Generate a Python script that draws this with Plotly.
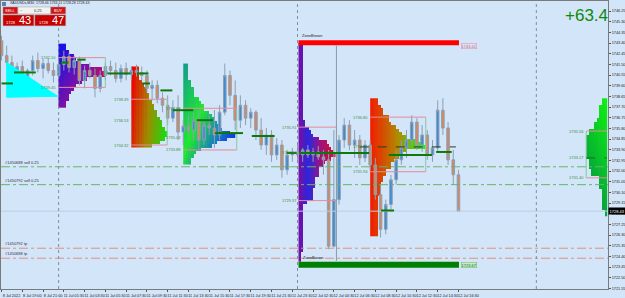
import plotly.graph_objects as go

# ---------------- DATA ----------------
bars = list(range(89))
opens = [1743.60,1742.28,1741.66,1740.78,1741.31,1740.25,1740.95,1741.84,1741.13,1741.57,
         1740.95,1740.51,1741.48,1742.19,1741.22,1741.84,1740.07,1740.95,1740.51,1739.36,
         1740.51,1741.31,1740.95,1740.25,1741.13,1740.60,1740.95,1740.78,1740.51,1739.36,
         1739.63,1738.48,1737.86,1736.71,1737.59,1735.47,1736.00,1735.65,1736.53,1734.76,
         1736.09,1735.83,1735.21,1737.24,1740.51,1738.74,1736.53,1737.86,1736.71,1737.24,
         1735.65,1734.32,1735.21,1733.44,1734.32,1732.11,1733.44,1733.70,1733.44,1733.88,
         1733.44,1733.70,1733.26,1733.00,1725.31,1729.46,1734.76,1736.09,1734.32,1734.76,
         1733.17,1734.32,1732.55,1729.90,1726.81,1729.02,1731.23,1733.00,1734.06,1734.76,
         1736.36,1734.32,1735.21,1733.44,1734.06,1737.42,1735.83,1733.00,1731.67]
highs = [1744.05,1743.16,1742.28,1741.66,1741.84,1741.13,1742.28,1742.54,1742.01,1742.01,
         1741.66,1741.84,1742.72,1742.54,1742.28,1742.19,1741.39,1741.66,1741.13,1740.95,
         1741.66,1741.84,1741.66,1741.48,1741.66,1741.31,1741.48,1741.31,1740.95,1740.07,
         1740.07,1739.01,1738.74,1738.30,1738.74,1736.53,1736.97,1737.24,1737.42,1736.71,
         1736.97,1737.42,1737.86,1741.57,1740.95,1740.07,1738.74,1738.30,1737.59,1737.42,
         1736.71,1735.83,1735.65,1734.94,1734.76,1733.88,1734.06,1734.32,1734.06,1734.32,
         1734.06,1734.23,1733.88,1733.88,1735.65,1735.21,1736.71,1736.53,1735.65,1735.21,
         1734.76,1734.76,1733.17,1730.79,1729.46,1731.67,1733.88,1734.76,1735.65,1736.97,
         1736.71,1736.09,1735.65,1734.76,1738.30,1738.48,1736.36,1733.88,1732.11]
lows = [1741.84,1741.13,1740.07,1739.89,1739.63,1739.54,1740.51,1740.78,1740.25,1740.69,
        1739.89,1740.25,1740.95,1740.78,1740.60,1739.63,1739.36,1740.25,1738.57,1739.01,
        1740.07,1740.51,1739.89,1739.89,1740.07,1740.07,1740.42,1740.07,1739.01,1738.30,
        1738.03,1737.24,1736.09,1736.36,1734.76,1734.32,1735.21,1734.76,1733.88,1734.32,
        1735.21,1734.06,1734.76,1736.97,1737.86,1735.65,1735.83,1736.09,1735.83,1734.76,
        1733.88,1733.44,1732.82,1733.00,1731.40,1731.67,1732.82,1733.00,1732.82,1733.17,
        1732.82,1733.00,1731.67,1725.04,1725.22,1729.02,1734.06,1733.88,1733.17,1732.55,
        1732.82,1732.11,1729.46,1726.10,1726.37,1728.58,1730.79,1732.55,1733.17,1734.32,
        1733.88,1733.70,1733.00,1732.82,1733.70,1735.21,1732.55,1730.79,1728.40]
closes = [1742.28,1741.66,1740.78,1741.31,1740.25,1740.95,1741.84,1741.13,1741.57,1740.95,
          1740.51,1741.48,1742.19,1741.22,1741.84,1740.07,1740.95,1740.51,1739.36,1740.51,
          1741.31,1740.95,1740.25,1741.13,1740.60,1740.95,1740.78,1740.51,1739.36,1739.63,
          1738.48,1737.86,1736.71,1737.59,1735.47,1736.00,1735.65,1736.53,1734.76,1736.09,
          1735.83,1735.21,1737.24,1740.51,1738.74,1736.53,1737.86,1736.71,1737.24,1735.65,
          1734.32,1735.21,1733.44,1734.32,1732.11,1733.44,1733.70,1733.44,1733.88,1733.44,
          1733.70,1733.26,1733.00,1725.31,1729.46,1734.76,1736.09,1734.32,1734.76,1733.17,
          1734.32,1732.55,1729.90,1726.81,1729.02,1731.23,1733.00,1734.06,1734.76,1736.36,
          1734.32,1735.21,1733.44,1734.06,1737.42,1735.83,1733.00,1731.67,1728.43]

y_tickvals = [1746.25,1745.30,1744.35,1743.40,1742.45,1741.50,1740.55,1739.60,1738.65,1737.70,
              1736.75,1735.80,1734.85,1733.90,1732.95,1732.00,1731.05,1730.10,1729.15,1728.20,
              1727.25,1726.30,1725.35,1724.40,1723.45,1722.50,1721.55]
x_tickvals = list(range(0, 89, 4))
x_ticktext = ["8 Jul 2022","8 Jul 19:00","8 Jul 21:00","11 Jul 01:30","11 Jul 03:30","11 Jul 05:30",
              "11 Jul 07:30","11 Jul 09:30","11 Jul 11:30","11 Jul 13:30","11 Jul 15:30","11 Jul 17:30",
              "11 Jul 19:30","11 Jul 21:30","11 Jul 23:30","12 Jul 02:30","12 Jul 04:30","12 Jul 06:30",
              "12 Jul 08:30","12 Jul 10:30","12 Jul 12:30","12 Jul 14:30","12 Jul 16:30"]

# TPO profiles: left edge (bar), top price, widths per 0.30 row (in columns)
prof_step = 0.30
p1_left, p1_top = 10.95, 1743.34
p1_widths = [3,3,4,6,7,8,12,17,19,18,11,9,7,6,5,4,4,3,3]
p2_left, p2_top = 25.0, 1741.31
p2_widths = [3,3,3,3,4,5,6,6,7,7,8,9,9,10,10,11,12,12,13,14,14,13,11,8]
p3_left, p3_top = 35.0, 1741.57
p3_widths = [2,2,2,2,2,3,3,4,4,4,6,7,8,8,10,11,12,13,14,15,18,20,17,13,11,7,5,4,3,3]
p4_left, p4_top = 57.2, 1743.43
p4_widths = [2]*23 + [3,3,5,6,7,10,14,15,16,17,18,16,13,12,10,10,10,8,8,8,7,7,7,7,4] + [2]*14 + [1,1,1]
p5_left, p5_top = 71.0, 1738.48
p5_widths = [3,3,4,5,5,7,7,8,10,11,12,14,18,20,21,14,12,11,9,8,8,6,6,5,5,4,4,4,4] + [3]*12
p6_right, p6_top = 116.6, 1738.48
p6_widths = [2,2,3,3,3,3,4,5,5,7,7,8,8,8,8,8,8,8,7,7,7,6,6,3,3,3,3,2,2,2,2,2,2,1,1]

# value-area boxes
va_x0 = [10.95, 25.0, 35.0, 57.2, 71.0, 112.6]
va_x1 = [20.0, 31.9, 45.3, 64.5, 81.7, 116.6]
va_top = [1742.10, 1738.39, 1737.59, 1735.91, 1736.80, 1735.56]
va_bot = [1739.45, 1734.32, 1733.88, 1729.37, 1731.94, 1731.40]
va_mid = [None, 1736.53, 1735.03, 1733.61, 1734.15, 1733.17]

# POC / level segments
seg_x0 = [0.0, 2.4, 11.4, 14.6, 20.4, 26.1, 27.1, 30.6, 33.0, 37.6, 41.1, 48.2, 54.9, 57.4, 74.6, 83.7, 73.1]
seg_x1 = [2.2, 6.6, 12.9, 16.2, 24.8, 28.3, 28.6, 32.9, 36.9, 40.7, 46.5, 52.6, 56.8, 70.8, 82.9, 86.7, 75.6]
seg_y = [1739.80, 1740.78, 1741.66, 1741.92, 1740.69, 1740.69, 1739.80, 1739.18, 1737.42, 1736.53,
         1735.38, 1735.12, 1733.61, 1733.61, 1733.44, 1733.70, 1728.49]

tri_x = [1.0, 1.0, 10.8]
tri_y = [1741.66, 1738.57, 1738.66]

zone_x = [57.2, 88.1]
zone_red = 1743.42
zone_green = 1723.67
marker_x = 64.5
marker_y = [1743.16, 1724.00]
dash_level = 1734.15
dash_x = [69.0, 87.5]

order_prices = [1732.38, 1730.79, 1725.13, 1724.24]
order_labels = ["#1450688 sell 0.25", "#1450792 sell 0.25", "#1450792 tp", "#1450688 tp"]
order_colors = ["#5FB86A", "#5FB86A", "#E0907F", "#E0907F"]

separators = [11, 57, 103]
bid = 1728.43
ask = 1728.47
profit = "+63.4"

X0, X1 = -0.1, 116.8
Y0, Y1 = 1721.50, 1747.14
W_PLOT, H_PLOT = 610, 290

fig = go.Figure()


def profile(left, top, widths, colw, scale, colorfn, anchor="left"):
    n = len(widths)
    maxw = max(widths)
    ys = [top - prof_step * (r + 0.5) for r in range(n)]
    if anchor == "left":
        xs = [left + colw * (c + 0.5) for c in range(maxw)]
    else:
        xs = [left - colw * (maxw - c - 0.5) for c in range(maxw)]
    z = []
    for r, w in enumerate(widths):
        row = []
        for c in range(maxw):
            d = c if anchor == "left" else maxw - 1 - c
            if d < w:
                row.append(min(1.0, colorfn(d / max(maxw - 1, 1), r / max(n - 1, 1))))
            else:
                row.append(None)
        z.append(row)
    return go.Heatmap(x=xs, y=ys, z=z, colorscale=scale, zmin=0, zmax=1, showscale=False,
                      hoverinfo="skip", xgap=0, ygap=0)


fig.add_trace(profile(p1_left, p1_top, p1_widths, 0.5,
                      [[0, "#1010E8"], [0.45, "#7010B0"], [0.75, "#B01070"], [1, "#E01030"]],
                      lambda c, r: 0.6 * c + 0.45 * r))
fig.add_trace(profile(p2_left, p2_top, p2_widths, 0.5,
                      [[0, "#F00000"], [0.5, "#A08A00"], [1, "#10E010"]],
                      lambda c, r: 0.85 * c + 0.15 * r))
fig.add_trace(profile(p3_left, p3_top, p3_widths, 0.5,
                      [[0, "#12A08A"], [0.4, "#22E830"], [0.7, "#1478C8"], [1, "#1010F0"]],
                      lambda c, r: 0.55 * c + 0.45 * r))
fig.add_trace(profile(p4_left, p4_top, p4_widths, 0.4,
                      [[0, "#7010A8"], [0.25, "#2828E0"], [0.6, "#A01080"], [1, "#D81030"]],
                      lambda c, r: c))
fig.add_trace(profile(p5_left, p5_top, p5_widths, 0.5,
                      [[0, "#F02000"], [0.5, "#B08A00"], [1, "#20F020"]],
                      lambda c, r: c))
fig.add_trace(profile(p6_right, p6_top, p6_widths, 0.5,
                      [[0, "#00884A"], [1, "#10F010"]],
                      lambda c, r: 0.7 * (1 - r) + 0.3 * (1 - c), anchor="right"))

# cyan triangle
fig.add_trace(go.Scatter(x=tri_x + [tri_x[0]], y=tri_y + [tri_y[0]], fill="toself", fillcolor="#00FFFF",
                         line=dict(color="#00FFFF", width=1), mode="lines", hoverinfo="skip"))

# value area boxes
for i in range(len(va_x0)):
    fig.add_trace(go.Scatter(x=[va_x0[i], va_x1[i], None, va_x0[i], va_x1[i]],
                             y=[va_top[i], va_top[i], None, va_bot[i], va_bot[i]],
                             mode="lines", line=dict(color="#E58A9A", width=1), hoverinfo="skip"))
    vx = va_x0[i] if i == 5 else va_x1[i]
    fig.add_trace(go.Scatter(x=[vx, vx], y=[va_top[i], va_bot[i]], mode="lines",
                             line=dict(color="#8CC79A", width=1), hoverinfo="skip"))

# horizontal order lines
for p, c in zip(order_prices, order_colors):
    fig.add_trace(go.Scatter(x=[X0, X1], y=[p, p], mode="lines", line=dict(color=c, width=1, dash="dashdot"),
                             hoverinfo="skip"))
# bid line
fig.add_trace(go.Scatter(x=[X0, X1], y=[bid, bid], mode="lines", line=dict(color="#B9CFE6", width=1),
                         hoverinfo="skip"))

# separators
for s in separators:
    fig.add_trace(go.Scatter(x=[s, s], y=[Y0, Y1], mode="lines", line=dict(color="#8090A0", width=1, dash="dot"),
                             hoverinfo="skip"))

# marker vertical line
fig.add_trace(go.Scatter(x=[marker_x, marker_x], y=marker_y, mode="lines", line=dict(color="#8C9AA6", width=1),
                         hoverinfo="skip"))

# candles
fig.add_trace(go.Candlestick(x=bars, open=opens, high=highs, low=lows, close=closes,
                             increasing=dict(line=dict(color="#8C9FB2", width=1), fillcolor="#3C8CD2"),
                             decreasing=dict(line=dict(color="#8C9FB2", width=1), fillcolor="#D9875A"),
                             whiskerwidth=0, hoverinfo="skip"))

# POC segments
xs, ys = [], []
for a, b, y in zip(seg_x0, seg_x1, seg_y):
    xs += [a, b, None]
    ys += [y, y, None]
fig.add_trace(go.Scatter(x=xs, y=ys, mode="lines", line=dict(color="#0A7A0A", width=2), hoverinfo="skip"))
fig.add_trace(go.Scatter(x=dash_x, y=[dash_level, dash_level], mode="lines",
                         line=dict(color="#2A3A2A", width=1, dash="dash"), hoverinfo="skip"))
fig.add_trace(go.Scatter(x=[va_x0[5], va_x1[5]], y=[va_mid[5], va_mid[5]], mode="lines",
                         line=dict(color="#0A7A0A", width=1, dash="dash"), hoverinfo="skip"))

# zones
fig.add_trace(go.Scatter(x=zone_x, y=[zone_red, zone_red], mode="lines", line=dict(color="#FF0000", width=5),
                         hoverinfo="skip"))
fig.add_trace(go.Scatter(x=zone_x, y=[zone_green, zone_green], mode="lines", line=dict(color="#008000", width=6),
                         hoverinfo="skip"))

F = "Liberation Sans, Arial, sans-serif"
ann = []
for i in range(len(va_x0)):
    for v in (va_top[i], va_mid[i], va_bot[i]):
        if v is None:
            continue
        ann.append(dict(x=va_x0[i], y=v, text=f"{v:.2f}", showarrow=False, xanchor="right", yanchor="middle",
                        font=dict(size=4, color="#3E8E3E", family=F)))
for p, t in zip(order_prices, order_labels):
    ann.append(dict(x=0.3, y=p, text=t, showarrow=False, xanchor="left", yanchor="bottom",
                    font=dict(size=4, color="#334", family=F)))
ann.append(dict(x=57.4, y=zone_red, text="ZoneBrown", showarrow=False, xanchor="left", yanchor="bottom", yshift=3,
                font=dict(size=4, color="#222", family=F)))
ann.append(dict(x=57.6, y=zone_green, text="ZoneBrown", showarrow=False, xanchor="left", yanchor="bottom", yshift=3,
                font=dict(size=4, color="#222", family=F)))
ann.append(dict(x=88.4, y=zone_red, text=f"{zone_red:.2f}", showarrow=False, xanchor="left", yanchor="top",
                font=dict(size=4, color="#E06070", family=F), bordercolor="#E58A9A", borderwidth=0.5, borderpad=0))
ann.append(dict(x=88.4, y=zone_green, text=f"{zone_green:.2f}", showarrow=False, xanchor="left", yanchor="middle",
                font=dict(size=4, color="#206020", family=F), bgcolor="#C2EEC2", bordercolor="#70B070",
                borderwidth=0.5, borderpad=0))
ann.append(dict(xref="paper", x=1.0, y=bid, text=f"{bid:.2f}", showarrow=False, xanchor="left", yanchor="middle",
                font=dict(size=4, color="#FFFFFF", family=F), bgcolor="#000000", borderpad=0.5))
ann.append(dict(xref="paper", yref="paper", x=588 / W_PLOT, y=1 - 15 / H_PLOT, text=profit, showarrow=False,
                xanchor="center", yanchor="middle", font=dict(size=17, color="#0A8A0A", family=F)))


def px(x):
    return x / W_PLOT


def py(y):
    return 1 - y / H_PLOT


shapes = []
panel = [((2, 6, 17, 13), "#D21414"), ((17, 6, 50, 13), "#F2F2F2"), ((50, 6, 65, 13), "#D21414"),
         ((2, 14, 33, 25), "#C80000"), ((34, 14, 65, 25), "#C80000")]
for (a, b, c, d), col in panel:
    shapes.append(dict(type="rect", xref="paper", yref="paper", x0=px(a), x1=px(c), y0=py(d), y1=py(b),
                       fillcolor=col, line=dict(color="#A0A0A0", width=0.5)))
shapes.append(dict(type="rect", xref="paper", yref="paper", x0=px(1), x1=px(5), y0=py(5), y1=py(1),
                   fillcolor="#5A7FB0", line=dict(width=0)))

panel_text = [(9.5, 9.5, "SELL", 4, "#FFFFFF"), (21, 9.5, "−", 4, "#333"), (38, 9.5, "0.25", 4, "#333"),
              (57.5, 9.5, "BUY", 4, "#FFFFFF"), (10, 21.5, "1728", 4, "#FFFFFF"), (24, 19.5, "43", 11, "#FFFFFF"),
              (43, 21.5, "1728", 4, "#FFFFFF"), (57, 19.5, "47", 11, "#FFFFFF"),
              (7, 2.5, "XAUUSDx,M30  1728.46 1733.11 1728.28 1728.43", 3.5, "#223")]
for x, y, t, s, c in panel_text:
    ann.append(dict(xref="paper", yref="paper", x=px(x), y=py(y), text=t, showarrow=False,
                    xanchor="left" if t.startswith("XAU") else "center", yanchor="middle",
                    font=dict(size=s, color=c, family=F)))

fig.update_layout(
    width=625, height=298, margin=dict(l=0, r=15, t=0, b=8),
    paper_bgcolor="#D3E5F9", plot_bgcolor="#D3E5F9",
    showlegend=False, annotations=ann, shapes=shapes,
    xaxis=dict(range=[X0, X1], showgrid=False, zeroline=False, rangeslider=dict(visible=False),
               tickvals=x_tickvals, ticktext=x_ticktext, tickangle=0, ticks="outside", ticklen=2,
               tickcolor="#555", tickfont=dict(size=3.8, color="#222", family=F),
               showline=True, mirror=True, linecolor="#7A7A7A", linewidth=1, ticklabelshift=10),
    yaxis=dict(range=[Y0, Y1], side="right", showgrid=False, zeroline=False,
               tickvals=y_tickvals, ticktext=[f"{v:.2f}" for v in y_tickvals],
               ticks="outside", ticklen=2, tickcolor="#555", tickfont=dict(size=3.8, color="#222", family=F),
               showline=True, mirror=True, linecolor="#7A7A7A", linewidth=1),
)

fig.write_html("out.html")
